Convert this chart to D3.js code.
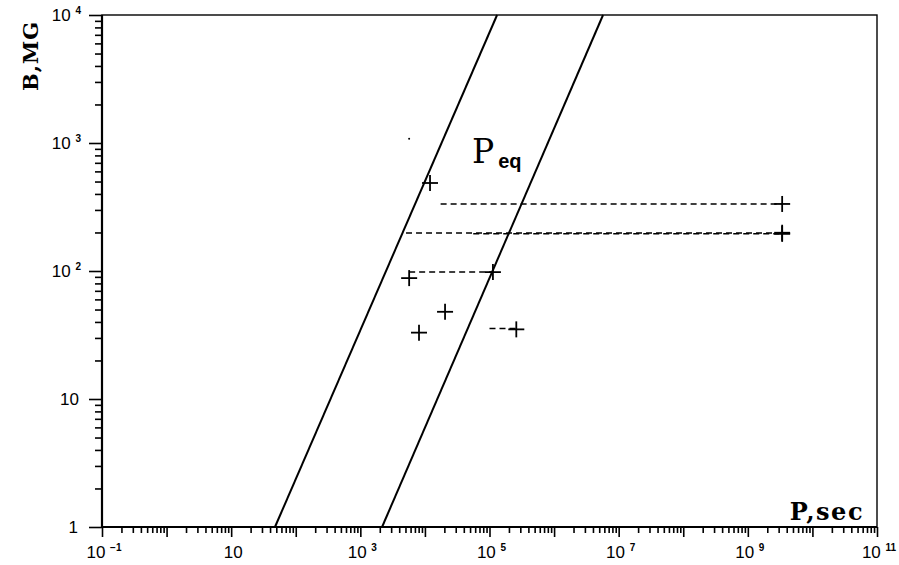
<!DOCTYPE html>
<html>
<head>
<meta charset="utf-8">
<script src="https://cdn.jsdelivr.net/npm/d3@7"></script>
<style>
  body { margin: 0; background: #fff; }
  svg { display: block; }
  .lab { font-family: "Liberation Sans", Arial, sans-serif; font-size: 17px; fill: #000; }
  .ttl { font-family: "DejaVu Serif", "Liberation Serif", serif; font-weight: bold; fill: #000; }
</style>
</head>
<body>
<svg id="chart" width="899" height="565"></svg>
<script>
// tick labels (exponents of 10), only odd decades are labelled on P
var xLabelExp = [-1, 1, 3, 5, 7, 9, 11];
var yLabelExp = [0, 1, 2, 3, 4];

// P_eq band edges: [P, B]
var peqLeft  = [[47.7, 1], [1.31e5, 1e4]];
var peqRight = [[2170, 1], [5.73e6, 1e4]];

// observed objects: P (sec), B (MG)
var crosses = [
  [1.2e4, 487],
  [3.4e9, 334],
  [3.4e9, 199],
  [3.4e9, 195],
  [5.7e3, 88],
  [1.13e5, 98],
  [8.1e3, 33],
  [2.05e4, 48],
  [2.6e5, 35]
];

// horizontal dashed ranges: [P from, P to, B]
var ranges = [
  [1.75e4, 3.4e9, 334],
  [5.1e3, 3.4e9, 198],
  [5.6e4, 3.4e9, 195.5],
  [5.7e3, 1.13e5, 98],
  [1.0e5, 2.6e5, 35.5]
];

// stray dot above the band
var dots = [[5.7e3, 1.08e3]];

var svg = d3.select("#chart");
var x = d3.scaleLog().domain([1e-1, 1e11]).range([102, 877]);
var y = d3.scaleLog().domain([1, 1e4]).range([527, 15]);

// minor / major ticks
var xMinor = [], xMajor = [];
for (var e = -1; e < 11; e++) {
  for (var m = 2; m <= 9; m++) xMinor.push(m * Math.pow(10, e));
}
for (var e = -1; e <= 11; e++) xMajor.push(Math.pow(10, e));
var yMinor = [], yMajor = [];
for (var e = 0; e < 4; e++) {
  for (var m = 2; m <= 9; m++) yMinor.push(m * Math.pow(10, e));
}
for (var e = 0; e <= 4; e++) yMajor.push(Math.pow(10, e));

var xAxisMinor = d3.axisBottom(x).tickValues(xMinor).tickSize(6).tickFormat("");
var xAxisMajor = d3.axisBottom(x).tickValues(xMajor).tickSize(10).tickFormat("");
var yAxisMinor = d3.axisLeft(y).tickValues(yMinor).tickSize(7).tickFormat("");
var yAxisMajor = d3.axisLeft(y).tickValues(yMajor).tickSize(13).tickFormat("");

[xAxisMinor, xAxisMajor].forEach(function (ax) {
  var g = svg.append("g").attr("transform", "translate(0,527)").call(ax);
  g.select(".domain").remove();
  g.selectAll("line").attr("stroke", "#000").attr("stroke-width", 1.6);
});
[yAxisMinor, yAxisMajor].forEach(function (ax) {
  var g = svg.append("g").attr("transform", "translate(102,0)").call(ax);
  g.select(".domain").remove();
  g.selectAll("line").attr("stroke", "#000").attr("stroke-width", 1.6);
});

// frame
svg.append("rect")
  .attr("x", x(1e-1)).attr("y", y(1e4))
  .attr("width", x(1e11) - x(1e-1)).attr("height", y(1) - y(1e4))
  .attr("fill", "none").attr("stroke", "#000").attr("stroke-width", 1.4);
svg.append("line").attr("x1", x(1e-1)).attr("x2", x(1e11)).attr("y1", y(1)).attr("y2", y(1))
  .attr("stroke", "#000").attr("stroke-width", 2.2);
svg.append("line").attr("x1", x(1e-1)).attr("x2", x(1e-1)).attr("y1", y(1)).attr("y2", y(1e4))
  .attr("stroke", "#000").attr("stroke-width", 2.2);

// x tick labels
xLabelExp.forEach(function (e) {
  var t = svg.append("text").attr("class", "lab")
    .attr("x", x(Math.pow(10, e)) + 2).attr("y", 558).attr("text-anchor", "middle");
  if (e == 1) {
    t.text("10");
  } else {
    t.append("tspan").text("10 ");
    t.append("tspan").attr("dy", -7).attr("font-size", 10).attr("font-weight", "bold")
      .text(e < 0 ? "\u2212" + (-e) : e);
  }
});
// y tick labels
yLabelExp.forEach(function (e) {
  var t = svg.append("text").attr("class", "lab")
    .attr("x", 81).attr("y", y(Math.pow(10, e)) + 6).attr("text-anchor", "end");
  if (e == 0) t.attr("x", 78).text("1");
  else if (e == 1) t.attr("x", 79).text("10");
  else {
    t.append("tspan").text("10 ");
    t.append("tspan").attr("dy", -7).attr("font-size", 10).attr("font-weight", "bold").text(e);
  }
});

// axis titles
svg.append("text").attr("class", "ttl").attr("font-size", 21)
  .attr("letter-spacing", 1)
  .attr("transform", "translate(38,91) rotate(-90)").text("B,MG");
svg.append("text").attr("class", "ttl").attr("font-size", 24)
  .attr("letter-spacing", 1.5)
  .attr("x", 864).attr("y", 520).attr("text-anchor", "end").text("P,sec");

// P_eq band
var line = d3.line().x(function (d) { return x(d[0]); }).y(function (d) { return y(d[1]); });
[peqLeft, peqRight].forEach(function (pts) {
  svg.append("path").attr("d", line(pts))
    .attr("fill", "none").attr("stroke", "#000").attr("stroke-width", 2);
});
var peqLbl = svg.append("text").attr("x", 472).attr("y", 163);
peqLbl.append("tspan").style("font-family", "'DejaVu Serif', serif")
  .style("font-weight", "normal").style("font-size", "33px").text("P");
peqLbl.append("tspan").style("font-family", "'Liberation Sans', Arial, sans-serif")
  .style("font-weight", "bold").style("font-size", "20px").attr("dy", 5).attr("dx", 4).text("eq");

// dashed ranges
svg.selectAll("line.range").data(ranges).enter().append("line")
  .attr("class", "range")
  .attr("x1", function (d) { return x(d[0]); })
  .attr("x2", function (d) { return x(d[1]); })
  .attr("y1", function (d) { return y(d[2]); })
  .attr("y2", function (d) { return y(d[2]); })
  .attr("stroke", "#000").attr("stroke-width", 1.5)
  .attr("stroke-dasharray", "6,4");

// crosses
var cs = 8;
var g = svg.selectAll("g.cross").data(crosses).enter().append("g")
  .attr("class", "cross")
  .attr("transform", function (d) { return "translate(" + x(d[0]) + "," + y(d[1]) + ")"; });
g.append("line").attr("x1", -cs).attr("x2", cs).attr("y1", 0).attr("y2", 0)
  .attr("stroke", "#000").attr("stroke-width", 1.8);
g.append("line").attr("x1", 0).attr("x2", 0).attr("y1", -cs).attr("y2", cs)
  .attr("stroke", "#000").attr("stroke-width", 1.8);

svg.selectAll("circle.dot").data(dots).enter().append("circle")
  .attr("cx", function (d) { return x(d[0]); })
  .attr("cy", function (d) { return y(d[1]); })
  .attr("r", 1).attr("fill", "#000");
</script>
</body>
</html>
